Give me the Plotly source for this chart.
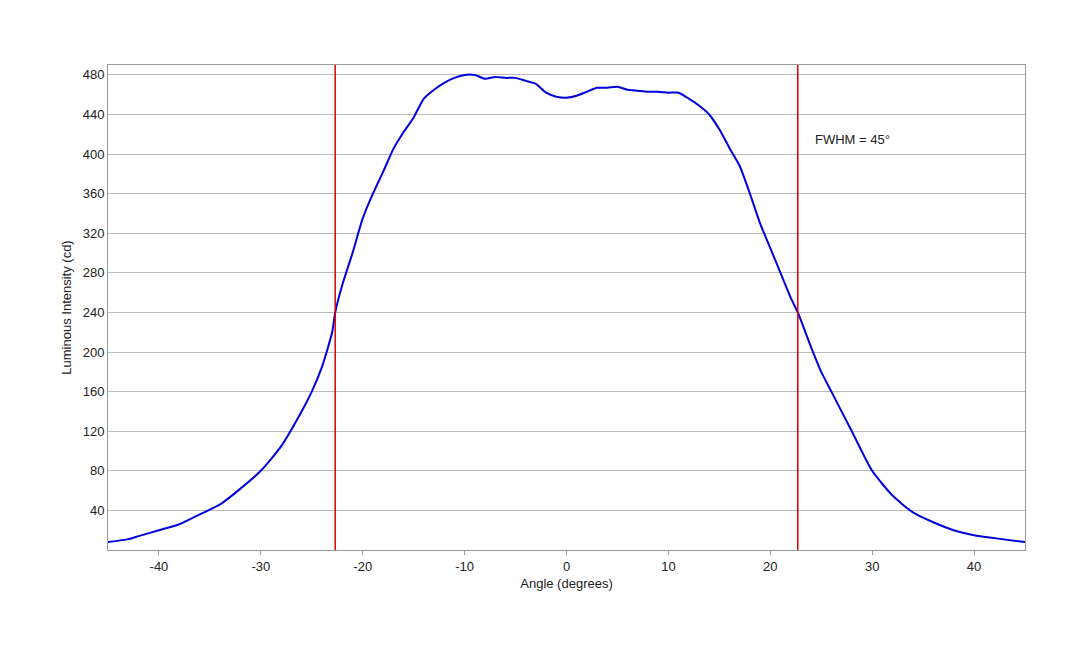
import plotly.graph_objects as go

angle = [-45,-43,-42,-40,-38,-36,-34,-32,-30,-28,-26,-25,-24,-23,-22.7,-22,-21,-20,-19,-18,-17,-16,-15,-14,-13,-12,-11,-10,-9,-8,-7,-6,-5,-4,-3,-2,-1,0,1,2,3,4,5,6,7,8,9,10,11,12,13,14,15,16,17,18,19,20,21,22,22.7,24,25,26,28,30,32,34,36,38,40,42,45]
intensity = [8,11,14,20,26,36,46,62,80,105,140,160,185,220,240,268,300,335,360,382,405,422,437,456,465,472,477,480,480,476,478,477,477,474,471,462,458,457,459,463,467,467,468,465,464,463,463,462,462,456,449,440,425,406,388,360,330,305,280,255,240,205,180,160,120,80,55,38,28,20,15,12,8]
fwhm_lines = [-22.7, 22.7]
yticks = [40,80,120,160,200,240,280,320,360,400,440,480]
xticks = [-40,-30,-20,-10,0,10,20,30,40]
xticklabels = ["-40","-30","-20","-10","0","10","20","30","40"]

fig = go.Figure()
fig.add_trace(go.Scatter(x=angle, y=intensity, mode="lines", line=dict(color="#0000dd", width=2, shape="spline", smoothing=0.6), showlegend=False))
for xv in fwhm_lines:
    fig.add_shape(type="line", x0=xv, x1=xv, y0=0, y1=1, yref="paper", line=dict(color="#dd0000", width=1.5))
fig.add_annotation(x=24.2, y=415, text="FWHM = 45°", showarrow=False, xanchor="left", font=dict(size=13, color="#222"))
fig.update_layout(
    width=1080, height=648, paper_bgcolor="white", plot_bgcolor="white",
    margin=dict(l=100, r=63, t=57, b=106),
    font=dict(family="Liberation Sans, Arial", size=13, color="#222"),
    xaxis=dict(range=[-45,45], tickvals=xticks, ticktext=xticklabels, showgrid=False, zeroline=False, showline=True, linecolor="#999", mirror=True, ticks="outside", ticklen=4, tickcolor="#999", title=dict(text="Angle (degrees)", standoff=6, font=dict(size=13))),
    yaxis=dict(range=[0,490], tickvals=yticks, showgrid=True, gridcolor="#bbb", zeroline=False, showline=True, linecolor="#999", mirror=True, title=dict(text="Luminous Intensity (cd)", standoff=8, font=dict(size=13))),
)
fig.write_html("out.html")
